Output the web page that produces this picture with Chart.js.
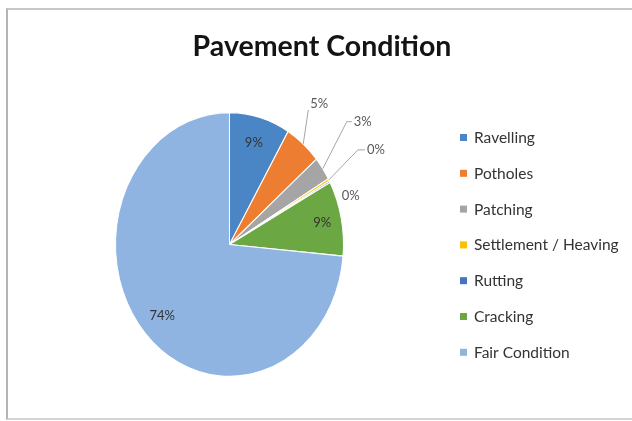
<!DOCTYPE html>
<html><head><meta charset="utf-8">
<script src="https://cdn.jsdelivr.net/npm/chart.js@4"></script>
<style>
html,body{margin:0;padding:0;background:#fff;}
#wrap{position:relative;width:632px;height:421px;overflow:hidden;}
#frame{position:absolute;left:6px;top:8px;width:640px;height:412px;border-top:2px solid #c8c8c8;border-left:2px solid #b4b4b4;border-bottom:2px solid #d4d4d4;box-sizing:border-box;}
canvas{position:absolute;left:0;top:0;}
</style></head>
<body><div id="wrap"><div id="frame"></div><canvas id="c" width="632" height="421" style="width:632px;height:421px"></canvas></div>
<script>
// ---- data ----
const chartTitle = 'Pavement Condition';
const categories = ['Ravelling', 'Potholes', 'Patching', 'Settlement / Heaving', 'Rutting', 'Cracking', 'Fair Condition'];
const shares = [8.6, 5.2, 2.9, 0.3, 0.2, 9.2, 73.6];

// ---- styles ----
const sliceColors = ['#4A86C6', '#ED7D31', '#A5A5A5', '#FFC000', '#4472C4', '#6BA843', '#8FB4E2'];
const FONT = 'Lato, "Open Sans", sans-serif';
const SY = 1.157; // vertical stretch of the pie (ellipse as in the reference)
// label placement: inside (fraction of radius) or callout (offset from slice edge mid-point)
const labelPlacement = [
  {inside: 0.8},
  {dx: 16, dy: -40, hook: 0, yo: 6},
  {dx: 40, dy: -47, hook: 5, yo: 0},
  {dx: 47, dy: -30, hook: 7, yo: 0},
  {dx: 21, dy: 14, noLine: true},
  {inside: 0.83},
  {inside: 0.8}
];

const total = shares.reduce((a, b) => a + b, 0);

const ellipsePlugin = {
  id: 'ellipse',
  beforeDatasetsDraw(chart) {
    const a = chart.getDatasetMeta(0).data[0];
    const ctx = chart.ctx;
    ctx.save();
    ctx.translate(0, a.y);
    ctx.scale(1, SY);
    ctx.translate(0, -a.y);
  },
  afterDatasetsDraw(chart) { chart.ctx.restore(); }
};

const decorPlugin = {
  id: 'decor',
  afterDraw(chart) {
    const ctx = chart.ctx;
    const arcs = chart.getDatasetMeta(0).data;
    ctx.save();
    // title
    ctx.fillStyle = '#141414';
    ctx.font = 'bold 28.5px ' + FONT;
    ctx.textAlign = 'center';
    ctx.textBaseline = 'middle';
    ctx.fillText(chartTitle, 322, 47);

    // legend
    ctx.font = '15.5px ' + FONT;
    ctx.textAlign = 'left';
    categories.forEach((name, i) => {
      const y = 138 + i * 35.8;
      ctx.fillStyle = sliceColors[i];
      ctx.fillRect(460, y - 4, 7, 7);
      ctx.fillStyle = '#333333';
      ctx.fillText(name, 474, y);
    });

    // data labels
    ctx.font = '13px ' + FONT;
    ctx.textBaseline = 'middle';
    arcs.forEach((arc, i) => {
      const p = labelPlacement[i];
      const mid = (arc.startAngle + arc.endAngle) / 2;
      const R = arc.outerRadius;
      const txt = Math.round(shares[i] / total * 100) + '%';
      if (p.inside) {
        const x = arc.x + Math.cos(mid) * R * p.inside;
        const y = arc.y + Math.sin(mid) * R * p.inside * SY;
        ctx.fillStyle = '#333333';
        ctx.textAlign = 'center';
        ctx.fillText(txt, x, y);
      } else {
        const ex = arc.x + Math.cos(mid) * R;
        const ey = arc.y + Math.sin(mid) * R * SY;
        const lx = ex + p.dx, ly = ey + p.dy;
        const w = ctx.measureText(txt).width;
        if (!p.noLine) {
          const endX = lx - w / 2 - 2;
          const endY = ly + p.yo;
          ctx.strokeStyle = '#A6A6A6';
          ctx.lineWidth = 1;
          ctx.beginPath();
          ctx.moveTo(ex, ey);
          ctx.lineTo(endX - p.hook, endY);
          ctx.lineTo(endX, endY);
          ctx.stroke();
        }
        ctx.fillStyle = '#595959';
        ctx.textAlign = 'center';
        ctx.fillText(txt, lx, ly);
      }
    });
    ctx.restore();
  }
};

new Chart(document.getElementById('c'), {
  type: 'pie',
  data: {
    labels: categories,
    datasets: [{
      data: shares,
      backgroundColor: sliceColors,
      borderColor: '#ffffff',
      borderWidth: 1
    }]
  },
  options: {
    responsive: false,
    animation: false,
    events: [],
    layout: {padding: {left: 115, right: 288, top: 130, bottom: 62}},
    plugins: {legend: {display: false}, title: {display: false}, tooltip: {enabled: false}}
  },
  plugins: [ellipsePlugin, decorPlugin]
});
</script>
</body></html>
